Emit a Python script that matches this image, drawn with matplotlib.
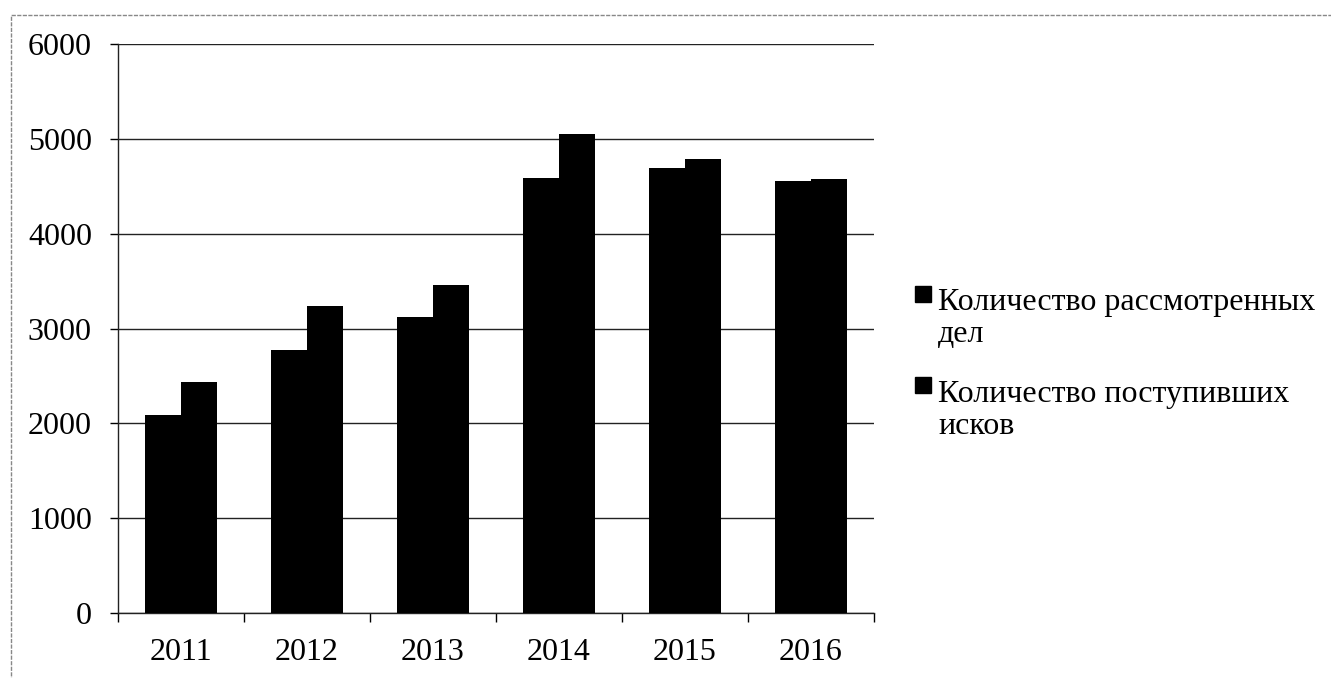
import matplotlib
matplotlib.use("Agg")
import matplotlib.pyplot as plt
import numpy as np
from matplotlib.patches import Rectangle

years = ["2011", "2012", "2013", "2014", "2015", "2016"]
considered = [2090, 2776, 3120, 4585, 4690, 4556]
received = [2440, 3239, 3463, 5050, 4792, 4577]
series_names = ["Количество рассмотренных\nдел", "Количество поступивших\nисков"]
yticks = [0, 1000, 2000, 3000, 4000, 5000, 6000]

W, H = 1331, 678
fig = plt.figure(figsize=(W / 100, H / 100), dpi=100)
plt.rcParams['font.family'] = ['Liberation Serif', 'DejaVu Serif']
fs = 23

ax = fig.add_axes([118 / W, 1 - 613 / H, (874 - 118) / W, (613 - 44) / H])
x = np.arange(len(years))
bw = 0.2857
ax.bar(x - bw / 2, considered, width=bw, color='black', zorder=3)
ax.bar(x + bw / 2, received, width=bw, color='black', zorder=3)

ax.set_xlim(-0.5, len(years) - 0.5)
ax.set_ylim(0, 6000)
ax.set_yticks(yticks)
ax.set_yticklabels([str(v) for v in yticks])
ax.set_xticks(x)
ax.set_xticklabels(years)
ax.set_xticks(np.arange(-0.5, len(years), 1.0), minor=True)

ax.grid(axis='y', color='#222222', linewidth=1.0, zorder=1)
for s in ['top', 'right']:
    ax.spines[s].set_visible(False)
for s in ['left', 'bottom']:
    ax.spines[s].set_color('#222222')
    ax.spines[s].set_linewidth(1.0)

ax.tick_params(axis='y', direction='out', length=5.8, width=1.0, pad=13.0, labelsize=fs, colors='black')
ax.tick_params(axis='x', which='major', length=0, pad=18, labelsize=fs)
ax.tick_params(axis='x', which='minor', direction='out', length=6.5, width=1.0)

# chart border (partially visible)
fig.patches.append(Rectangle((11 / W, -0.1), 1.2, 1 - 15 / H + 0.1, transform=fig.transFigure,
                             fill=False, edgecolor='#888888', linewidth=1.0, linestyle=(0, (3, 1))))

# legend
entries = [(286, 310), (377, 402)]
for name, (sq_top, base) in zip(series_names, entries):
    fig.patches.append(Rectangle((915 / W, 1 - (sq_top + 16) / H), 16 / W, 16 / H,
                                 transform=fig.transFigure, facecolor='black', edgecolor='black'))
    lines = name.split("\n")
    for k, line in enumerate(lines):
        fig.text(938 / W, 1 - (base + 32 * k) / H, line, fontsize=fs, va='baseline', ha='left')

fig.savefig("out.png", dpi=100)
